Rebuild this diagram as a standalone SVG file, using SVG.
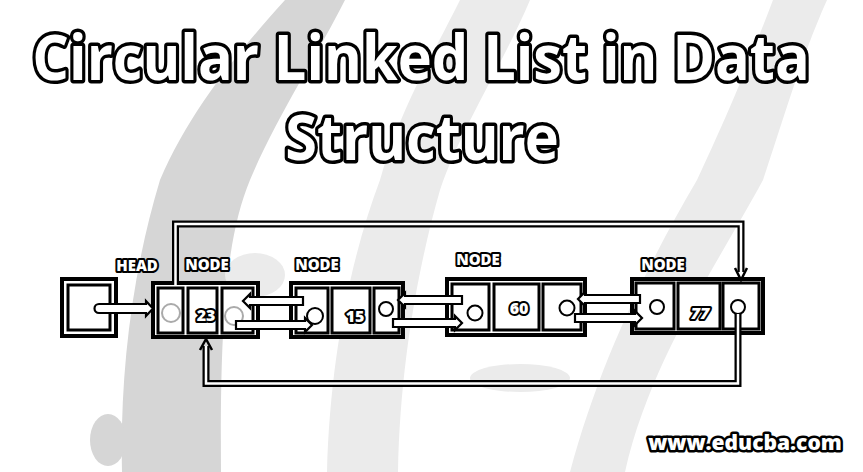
<svg xmlns="http://www.w3.org/2000/svg" width="863" height="472" viewBox="0 0 863 472">
  <style>
    .bgd { fill: #d6d6d6; }
    .bgl { fill: #ebebeb; }
    .title { font-family: "Open Sans", "Noto Sans", sans-serif; font-weight: 700; font-size: 63px; fill: #fff; stroke: #000; stroke-width: 7; paint-order: stroke; stroke-linejoin: round; text-anchor: middle; }
    .lbl { font-family: "Open Sans", "Noto Sans", sans-serif; font-weight: 800; font-size: 15px; fill: #fff; stroke: #000; stroke-width: 4; paint-order: stroke; stroke-linejoin: round; text-anchor: middle; }
    .val { font-family: "Open Sans", "Noto Sans", sans-serif; font-weight: 800; font-size: 16px; fill: #fff; stroke: #000; stroke-width: 4; paint-order: stroke; stroke-linejoin: round; text-anchor: middle; }
    .url { font-family: "Open Sans", "Noto Sans", sans-serif; font-weight: 800; font-size: 21px; fill: #fff; stroke: #000; stroke-width: 5; paint-order: stroke; stroke-linejoin: round; text-anchor: middle; }
    .outer { fill: #fff; stroke: #000; stroke-width: 4; }
    .cell { fill: #fff; stroke: #000; stroke-width: 3; }
    .ptr { fill: #fff; stroke: #000; stroke-width: 2; }
    .ptrg { fill: none; stroke: #aaa; stroke-width: 2; }
    .arr { fill: #fff; stroke: #000; stroke-width: 2.2; stroke-linejoin: miter; }
    .chanO { fill: none; stroke: #000; stroke-width: 7; stroke-linejoin: miter; }
    .chanI { fill: none; stroke: #fff; stroke-width: 2.5; stroke-linejoin: miter; }
  </style>

  <rect width="863" height="472" fill="#fff"/>

  <!-- dithered-looking background bands -->
  <g id="background">
    <path class="bgd" d="M285,0 H345 C320,50 275,120 250,180 C225,240 220,330 221,472 H122 C120,380 130,280 160,180 C190,110 240,50 285,0 Z"/>
    <path class="bgl" d="M460,0 H530 C505,60 460,130 440,190 C420,260 400,360 398,472 H327 C330,360 350,260 380,180 C400,110 430,60 460,0 Z"/>
    <path class="bgl" d="M773,0 H827 C800,60 780,130 763,180 C720,260 650,360 625,472 H570 C600,360 650,260 697,180 C730,110 750,60 773,0 Z"/>
    <ellipse class="bgl" cx="255" cy="275" rx="30" ry="22"/>
    <ellipse class="bgl" cx="520" cy="378" rx="50" ry="14"/>
    <ellipse class="bgd" cx="108" cy="440" rx="18" ry="26"/>
  </g>

  <!-- title -->
  <g id="title">
    <text class="title" transform="translate(421,80) scale(0.915,1)" x="0" y="0">Circular Linked List in Data</text>
    <text class="title" transform="translate(422,160) scale(0.915,1)" x="0" y="0">Structure</text>
  </g>

  <!-- head -->
  <g id="head">
    <rect class="outer" x="62" y="279" width="54" height="57"/>
    <rect class="cell" x="68" y="285" width="42" height="45" fill="none"/>
    <text class="lbl" x="137" y="271">HEAD</text>
  </g>

  <!-- node 1 -->
  <g id="node1">
    <rect class="outer" x="153" y="283" width="105" height="54"/>
    <rect class="cell" x="158" y="288" width="25" height="45"/>
    <rect class="cell" x="188" y="288" width="29" height="45"/>
    <rect class="cell" x="222" y="288" width="31" height="45"/>
    <circle class="ptrg" cx="171" cy="313" r="9"/>
    <circle class="ptrg" cx="234" cy="316" r="9"/>
    <text class="val" x="206" y="321">23</text>
    <text class="lbl" x="207" y="270">NODE</text>
  </g>

  <!-- node 2 -->
  <g id="node2">
    <rect class="outer" x="291" y="283" width="112" height="54"/>
    <rect class="cell" x="296" y="288" width="32" height="45"/>
    <rect class="cell" x="332" y="288" width="38" height="45"/>
    <rect class="cell" x="374" y="288" width="25" height="45"/>
    <circle class="ptr" cx="315" cy="316" r="8"/>
    <circle class="ptr" cx="386" cy="309" r="7"/>
    <text class="val" x="355" y="322">15</text>
    <text class="lbl" x="317" y="270">NODE</text>
  </g>

  <!-- node 3 -->
  <g id="node3">
    <rect class="outer" x="447" y="279" width="138" height="56"/>
    <rect class="cell" x="452" y="284" width="37" height="46"/>
    <rect class="cell" x="494" y="284" width="45" height="46"/>
    <rect class="cell" x="543" y="284" width="38" height="46"/>
    <circle class="ptr" cx="475" cy="313" r="7.5"/>
    <circle class="ptr" cx="567" cy="308" r="7.5"/>
    <text class="val" x="519" y="314">60</text>
    <text class="lbl" x="478" y="265">NODE</text>
  </g>

  <!-- node 4 -->
  <g id="node4">
    <rect class="outer" x="632" y="279" width="131" height="54"/>
    <rect class="cell" x="636" y="283" width="38" height="46"/>
    <rect class="cell" x="678" y="283" width="42" height="46"/>
    <rect class="cell" x="723" y="283" width="36" height="46"/>
    <circle class="ptr" cx="657" cy="307" r="7"/>
    <circle class="ptr" cx="738" cy="307" r="7"/>
    <text class="val" x="700" y="319" font-style="italic">77</text>
    <text class="lbl" x="663" y="270">NODE</text>
  </g>

  <!-- connectors -->
  <g id="connectors">
    <!-- top loop: node1 -> node4 -->
    <path class="chanO" d="M175.5,285 V224 H741 V272"/>
    <path class="chanI" d="M175.5,285 V224 H741 V272"/>
    <path d="M735,268 L741,280 L747,268" fill="none" stroke="#000" stroke-width="2.5"/>
    <!-- bottom loop: node4 -> node1 -->
    <path class="chanO" d="M738,314 V383.5 H206 V346"/>
    <path class="chanI" d="M738,314 V383.5 H206 V346"/>
    <path d="M200,350 L206,339 L212,350" fill="none" stroke="#000" stroke-width="2.5"/>

    <!-- head -> node1 -->
    <path class="arr" d="M99,304 H146 V301 L153,308.5 L146,316 V313 H99 A4.5,4.5 0 0 1 99,304 Z"/>

    <!-- node1 <-> node2 -->
    <path class="arr" d="M303,297 V305 H250 V308 L243,301 L250,294 V297 Z"/>
    <path class="arr" d="M236,321 H305 V318 L312,325 L305,332 V329 H236 Z"/>

    <!-- node2 <-> node3 -->
    <path class="arr" d="M462,296 V304 H405 V307 L398,300 L405,293 V296 Z"/>
    <path class="arr" d="M393,319 H455 V316 L462,323 L455,330 V327 H393 Z"/>

    <!-- node3 <-> node4 -->
    <path class="arr" d="M640,295 V303 H585 V306 L578,299 L585,292 V295 Z"/>
    <path class="arr" d="M575,314 H635 V311 L642,318 L635,325 V322 H575 Z"/>
  </g>

  <g id="footer">
    <text class="url" x="745" y="450">www.educba.com</text>
  </g>
</svg>
